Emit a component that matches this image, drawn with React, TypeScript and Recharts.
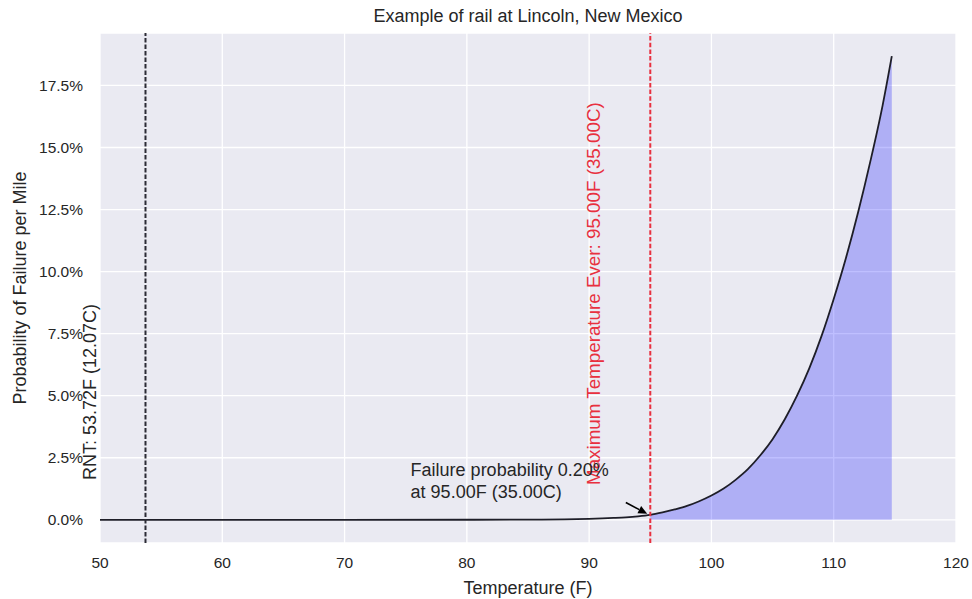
import React from 'react'
import {
  ComposedChart, Line, Area, XAxis, YAxis, CartesianGrid, ReferenceLine, ReferenceDot, Customized,
} from 'recharts'

// failure curve (percent per mile)
const temps = [50, 60, 70, 80, 85, 88, 90, 92, 93, 94, 95, 96, 97, 98, 99, 100, 101, 102, 103, 104, 105, 106, 107, 108, 109, 110, 111, 112, 113, 114, 114.75]
const failurePct = [0, 0, 0, 0.002, 0.008, 0.02, 0.04, 0.075, 0.1, 0.14, 0.2, 0.3, 0.42, 0.56, 0.75, 0.98, 1.26, 1.62, 2.05, 2.6, 3.25, 4.05, 5.0, 6.1, 7.4, 8.9, 10.55, 12.4, 14.45, 16.7, 18.68]

const xTicks = [50, 60, 70, 80, 90, 100, 110, 120]
const yTicks = [0, 2.5, 5, 7.5, 10, 12.5, 15, 17.5]

const rntF = 53.72
const maxTempF = 95

const title = 'Example of rail at Lincoln, New Mexico'
const rntLabel = 'RNT: 53.72F (12.07C)'
const maxLabel = 'Maximum Temperature Ever: 95.00F (35.00C)'
const noteLines = ['Failure probability 0.20%', 'at 95.00F (35.00C)']
const notePos = { x: 75.4, y: 0.88 }
const arrowFrom = { x: 93.0, y: 0.7 }
const arrowTo = { x: 94.75, y: 0.24 }

const data = temps.map((t, i) => ({
  t,
  p: failurePct[i],
  fill: t >= maxTempF ? failurePct[i] : null,
}))

const FONT = '"Liberation Sans", Arial, sans-serif'
const TEXT = '#262626'
const RED = '#e8303f'

function Title() {
  return (
    <text x={528} y={21.5} textAnchor="middle" fontSize={18} fill={TEXT} fontFamily={FONT}>
      {title}
    </text>
  )
}

function rotatedLabel(text: string, color: string, dx: number, size: number, up: number) {
  // eslint-disable-next-line @typescript-eslint/no-explicit-any
  return (props: any) => {
    const vb = props.viewBox || {}
    const x = vb.x + dx
    const y = vb.y + vb.height - up
    return (
      <text x={x} y={y} transform={`rotate(-90 ${x} ${y})`} textAnchor="start"
        fontSize={size} fill={color} fontFamily={FONT}>
        {text}
      </text>
    )
  }
}

// eslint-disable-next-line @typescript-eslint/no-explicit-any
function Arrow(props: any) {
  const { x1, y1, x2, y2 } = props
  const ang = Math.atan2(y2 - y1, x2 - x1)
  const len = 9
  const w = 4
  const bx = x2 - len * Math.cos(ang)
  const by = y2 - len * Math.sin(ang)
  const px = -Math.sin(ang) * w
  const py = Math.cos(ang) * w
  return (
    <g>
      <line x1={x1} y1={y1} x2={bx} y2={by} stroke="#000" strokeWidth={1.6} />
      <polygon points={`${x2},${y2} ${bx + px},${by + py} ${bx - px},${by - py}`} fill="#000" />
    </g>
  )
}

// eslint-disable-next-line @typescript-eslint/no-explicit-any
function Note(props: any) {
  const { cx, cy } = props
  return (
    <text x={cx} y={cy - 22} fontSize={18} fill={TEXT} fontFamily={FONT}>
      <tspan x={cx} dy={0}>{noteLines[0]}</tspan>
      <tspan x={cx} dy={22}>{noteLines[1]}</tspan>
    </text>
  )
}

export default function App() {
  return (
    <div style={{ position: 'absolute', left: 0, top: 0, width: 972, height: 599, background: '#fff' }}>
      <ComposedChart width={972} height={599} data={data}
        margin={{ top: 33, right: 16, bottom: 0, left: 0 }}
        style={{ fontFamily: FONT }}>
        <CartesianGrid fill="#EAEAF2" fillOpacity={1} stroke="#ffffff" strokeWidth={1.3} />
        <XAxis dataKey="t" type="number" domain={[50, 120]} ticks={xTicks} allowDataOverflow
          axisLine={false} tickLine={false} tickSize={0} tickMargin={13.5} height={56}
          tick={{ fontSize: 15.5, fill: TEXT, fontFamily: FONT }}
          label={{ value: 'Temperature (F)', position: 'insideBottom', offset: 5.5, fontSize: 18, fill: TEXT, fontFamily: FONT }} />
        <YAxis type="number" domain={[-0.934, 19.614]} ticks={yTicks} allowDataOverflow
          axisLine={false} tickLine={false} tickSize={0} tickMargin={17} width={100}
          tickFormatter={(v: number) => `${v.toFixed(1)}%`}
          tick={{ fontSize: 15.5, fill: TEXT, fontFamily: FONT }}
          label={{ value: 'Probability of Failure per Mile', angle: -90, position: 'insideLeft', offset: 20,
            fontSize: 18, fill: TEXT, fontFamily: FONT, style: { textAnchor: 'middle' } }} />
        <Area dataKey="fill" type="monotone" baseValue={0} stroke="none" fill="#0000ff" fillOpacity={0.25}
          connectNulls={false} isAnimationActive={false} dot={false} activeDot={false} />
        <Line dataKey="p" type="monotone" stroke="#1e1e28" strokeWidth={1.8}
          dot={false} activeDot={false} isAnimationActive={false} />
        <ReferenceLine x={rntF} stroke="#2b2b35" strokeWidth={2} strokeDasharray="4.5 2"
          label={{ content: rotatedLabel(rntLabel, TEXT, -49, 18, 63) }} />
        <ReferenceLine x={maxTempF} stroke={RED} strokeWidth={2} strokeDasharray="4.5 2.2"
          label={{ content: rotatedLabel(maxLabel, RED, -50, 18.8, 58) }} />
        <ReferenceLine segment={[arrowFrom, arrowTo]} shape={Arrow} />
        <ReferenceDot x={notePos.x} y={notePos.y} r={0} shape={Note} />
        <Customized component={Title} />
      </ComposedChart>
    </div>
  )
}
